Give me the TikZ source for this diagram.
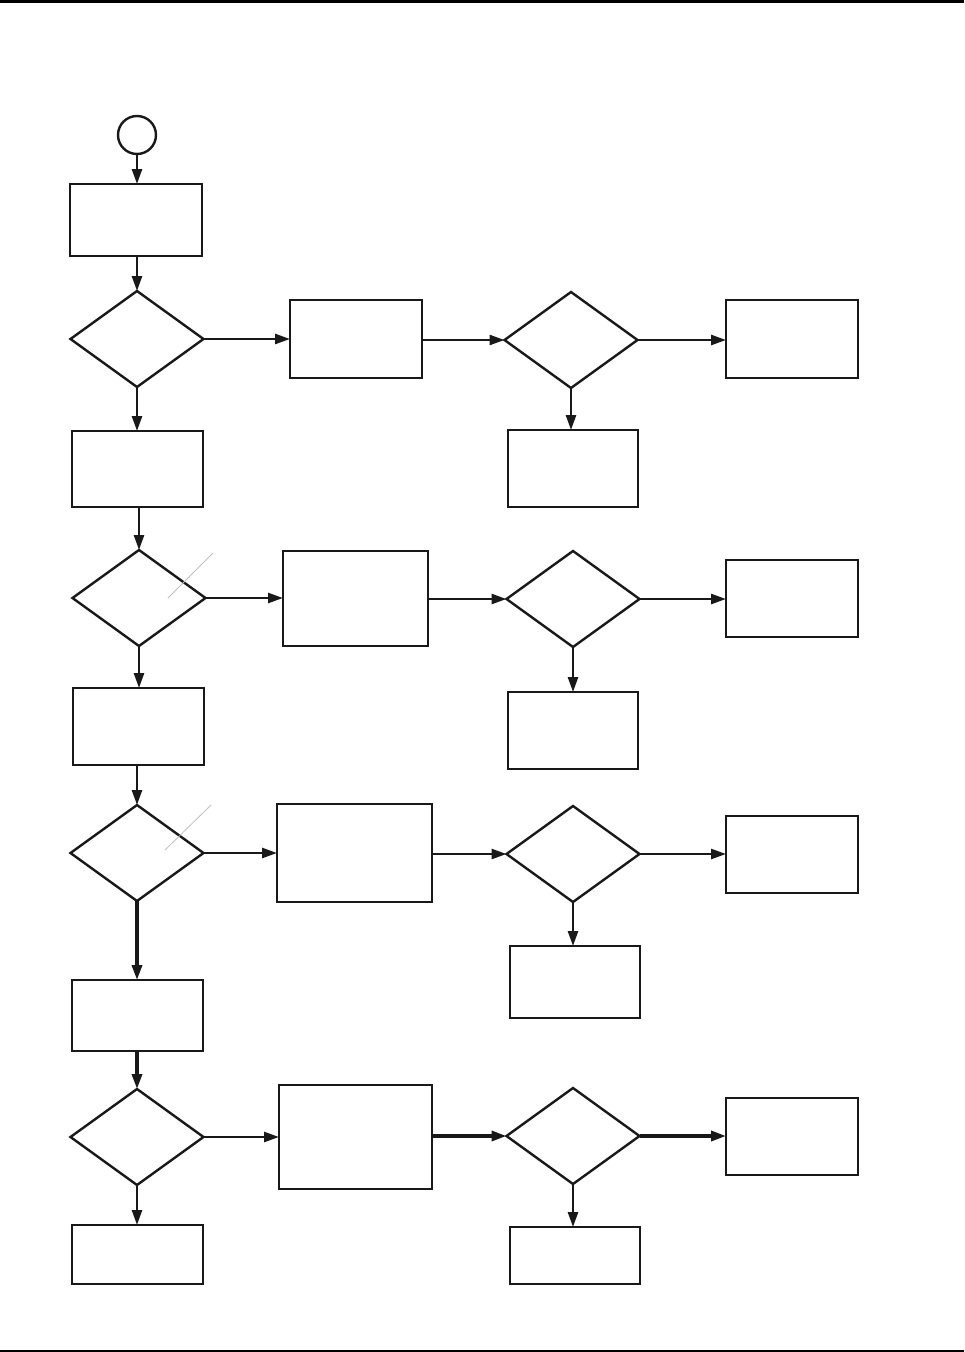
\documentclass[tikz,border=0pt]{standalone}
\usetikzlibrary{arrows.meta,shapes.geometric}
\begin{document}
\begin{tikzpicture}[x=1pt,y=-1pt,
  box/.style={draw=black!90,line width=2.4pt,rectangle,inner sep=0pt,outer sep=0pt},
  dec/.style={draw=black!90,line width=2.4pt,diamond,inner sep=0pt,outer sep=0pt,minimum width=133pt,minimum height=96pt},
  startc/.style={draw=black!90,line width=2.4pt,circle,inner sep=0pt,outer sep=0pt,minimum size=38pt},
  conn/.style={draw=black!90,line width=2.6pt,-{Triangle[length=15pt,width=10pt]}},
  thick conn/.style={conn,line width=3.4pt},
  faint/.style={draw=black!25,line width=0.8pt}]
\useasboundingbox (0,0) rectangle (964,1352);
\fill[black] (0,0) rectangle (964,2.5);
\fill[black] (0,1349.5) rectangle (964,1352);

\node[startc] (start) at (137,135) {};
\node[box,minimum width=132pt,minimum height=72pt] (b1) at (136,220) {};
% row 1
\node[dec] (d1) at (137,339) {};
\node[box,minimum width=132pt,minimum height=78pt] (a1) at (356,339) {};
\node[dec] (e1) at (571,340) {};
\node[box,minimum width=132pt,minimum height=78pt] (r1) at (792,339) {};
\node[box,minimum width=130pt,minimum height=77pt] (f1) at (573,468.5) {};
\node[box,minimum width=131pt,minimum height=76pt] (b2) at (137.5,469) {};
% row 2
\node[dec] (d2) at (139,598) {};
\node[box,minimum width=145pt,minimum height=95pt] (a2) at (355.5,598.5) {};
\node[dec] (e2) at (573,599) {};
\node[box,minimum width=132pt,minimum height=77pt] (r2) at (792,598.5) {};
\node[box,minimum width=130pt,minimum height=77pt] (f2) at (573,730.5) {};
\node[box,minimum width=131pt,minimum height=77pt] (b3) at (138.5,726.5) {};
% row 3
\node[dec] (d3) at (137,853) {};
\node[box,minimum width=155pt,minimum height=98pt] (a3) at (354.5,853) {};
\node[dec] (e3) at (573,854) {};
\node[box,minimum width=132pt,minimum height=77pt] (r3) at (792,854.5) {};
\node[box,minimum width=130pt,minimum height=72pt] (f3) at (575,982) {};
\node[box,minimum width=131pt,minimum height=71pt] (b4) at (137.5,1015.5) {};
% row 4
\node[dec] (d4) at (137,1137) {};
\node[box,minimum width=153pt,minimum height=104pt] (a4) at (355.5,1137) {};
\node[dec] (e4) at (573,1136) {};
\node[box,minimum width=132pt,minimum height=77pt] (r4) at (792,1136.5) {};
\node[box,minimum width=131pt,minimum height=59pt] (g4) at (137.5,1254.5) {};
\node[box,minimum width=130pt,minimum height=57pt] (f4) at (575,1255.5) {};

% faint marks
\draw[faint] (168,598) -- (213,553);
\draw[faint] (165,850) -- (211,805);

% connectors
\draw[conn] (start.south) -- (start.south |- b1.north);
\draw[conn] (d1.north |- b1.south) -- (d1.north);
\draw[conn] (d1.east) -- (d1.east -| a1.west);
\draw[conn] (e1.west -| a1.east) -- (e1.west);
\draw[conn] (e1.east) -- (e1.east -| r1.west);
\draw[conn] (e1.south) -- (e1.south |- f1.north);
\draw[conn] (d1.south) -- (d1.south |- b2.north);
\draw[conn] (d2.north |- b2.south) -- (d2.north);

\draw[conn] (d2.east) -- (d2.east -| a2.west);
\draw[conn] (e2.west -| a2.east) -- (e2.west);
\draw[conn] (e2.east) -- (e2.east -| r2.west);
\draw[conn] (e2.south) -- (e2.south |- f2.north);
\draw[conn] (d2.south) -- (d2.south |- b3.north);
\draw[conn] (d3.north |- b3.south) -- (d3.north);

\draw[conn] (d3.east) -- (d3.east -| a3.west);
\draw[conn] (e3.west -| a3.east) -- (e3.west);
\draw[conn] (e3.east) -- (e3.east -| r3.west);
\draw[conn] (e3.south) -- (e3.south |- f3.north);
\draw[thick conn] (d3.south) -- (d3.south |- b4.north);
\draw[thick conn] (d4.north |- b4.south) -- (d4.north);

\draw[conn] (d4.east) -- (d4.east -| a4.west);
\draw[thick conn] (e4.west -| a4.east) -- (e4.west);
\draw[thick conn] (e4.east) -- (e4.east -| r4.west);
\draw[conn] (e4.south) -- (e4.south |- f4.north);
\draw[conn] (d4.south) -- (d4.south |- g4.north);
\end{tikzpicture}
\end{document}
